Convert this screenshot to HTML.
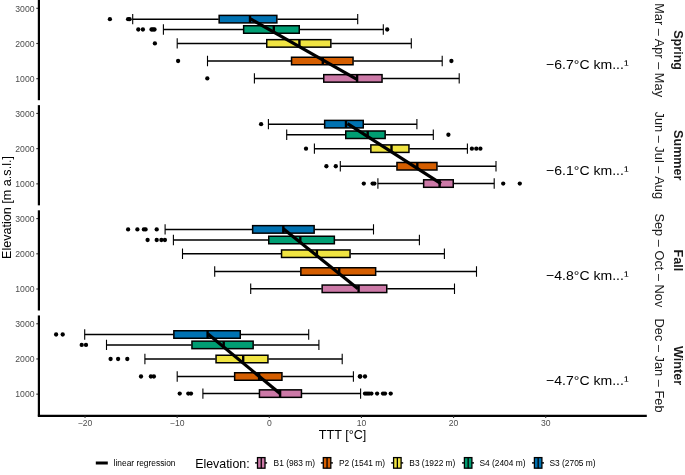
<!DOCTYPE html><html><head><meta charset="utf-8"><style>html,body{margin:0;padding:0;background:#fff;}svg{display:block;will-change:transform;}</style></head><body>
<svg width="685" height="475" viewBox="0 0 685 475">
<rect width="685" height="475" fill="#fff"/>
<path d="M132.70 19.15H218.70M277.30 19.15H357.70" stroke="#000" stroke-width="1.5" fill="none"/>
<path d="M132.70 13.95V24.35M357.70 13.95V24.35" stroke="#000" stroke-width="1.1" fill="none"/>
<rect x="219.15" y="15.40" width="57.70" height="7.50" fill="#0072B2" stroke="#000" stroke-width="1.5"/>
<path d="M250.00 15.40V22.90" stroke="#000" stroke-width="2.4"/>
<circle cx="109.90" cy="19.15" r="2.15"/>
<circle cx="128.10" cy="19.15" r="2.15"/>
<circle cx="129.60" cy="19.15" r="2.15"/>
<path d="M163.40 29.50H243.20M299.70 29.50H383.30" stroke="#000" stroke-width="1.5" fill="none"/>
<path d="M163.40 24.30V34.70M383.30 24.30V34.70" stroke="#000" stroke-width="1.1" fill="none"/>
<rect x="243.65" y="25.75" width="55.60" height="7.50" fill="#009E73" stroke="#000" stroke-width="1.5"/>
<path d="M273.80 25.75V33.25" stroke="#000" stroke-width="2.4"/>
<circle cx="138.30" cy="29.50" r="2.15"/>
<circle cx="142.90" cy="29.50" r="2.15"/>
<circle cx="151.50" cy="29.50" r="2.15"/>
<circle cx="153.00" cy="29.50" r="2.15"/>
<circle cx="154.50" cy="29.50" r="2.15"/>
<circle cx="387.20" cy="29.50" r="2.15"/>
<path d="M177.20 43.40H266.30M331.30 43.40H411.30" stroke="#000" stroke-width="1.5" fill="none"/>
<path d="M177.20 38.20V48.60M411.30 38.20V48.60" stroke="#000" stroke-width="1.1" fill="none"/>
<rect x="266.75" y="39.65" width="64.10" height="7.50" fill="#F0E442" stroke="#000" stroke-width="1.5"/>
<path d="M299.40 39.65V47.15" stroke="#000" stroke-width="2.4"/>
<circle cx="154.90" cy="43.40" r="2.15"/>
<path d="M207.50 61.00H291.10M353.50 61.00H442.20" stroke="#000" stroke-width="1.5" fill="none"/>
<path d="M207.50 55.80V66.20M442.20 55.80V66.20" stroke="#000" stroke-width="1.1" fill="none"/>
<rect x="291.55" y="57.25" width="61.50" height="7.50" fill="#D55E00" stroke="#000" stroke-width="1.5"/>
<path d="M322.80 57.25V64.75" stroke="#000" stroke-width="2.4"/>
<circle cx="178.10" cy="61.00" r="2.15"/>
<circle cx="451.40" cy="61.00" r="2.15"/>
<path d="M254.40 78.40H323.30M382.50 78.40H459.20" stroke="#000" stroke-width="1.5" fill="none"/>
<path d="M254.40 73.20V83.60M459.20 73.20V83.60" stroke="#000" stroke-width="1.1" fill="none"/>
<rect x="323.75" y="74.65" width="58.30" height="7.50" fill="#CC79A7" stroke="#000" stroke-width="1.5"/>
<path d="M357.10 74.65V82.15" stroke="#000" stroke-width="2.4"/>
<circle cx="207.30" cy="78.40" r="2.15"/>
<path d="M250.60 18.90L356.50 79.10" stroke="#000" stroke-width="3.2"/>
<text x="546.1" y="69.40" font-family="Liberation Sans, sans-serif" font-size="13" textLength="82.5" lengthAdjust="spacingAndGlyphs" fill="#000">−6.7°C km...¹</text>
<path d="M36.3 8.30H39" stroke="#333" stroke-width="1.1"/>
<text x="34.6" y="11.55" font-family="Liberation Sans, sans-serif" font-size="9" textLength="19.3" lengthAdjust="spacingAndGlyphs" fill="#4d4d4d" text-anchor="end">3000</text>
<path d="M36.3 43.50H39" stroke="#333" stroke-width="1.1"/>
<text x="34.6" y="46.75" font-family="Liberation Sans, sans-serif" font-size="9" textLength="19.3" lengthAdjust="spacingAndGlyphs" fill="#4d4d4d" text-anchor="end">2000</text>
<path d="M36.3 78.70H39" stroke="#333" stroke-width="1.1"/>
<text x="34.6" y="81.95" font-family="Liberation Sans, sans-serif" font-size="9" textLength="19.3" lengthAdjust="spacingAndGlyphs" fill="#4d4d4d" text-anchor="end">1000</text>
<path d="M38.9 0.00V100.20" stroke="#000" stroke-width="2.2"/>
<text transform="translate(673.7 50.10) rotate(90)" font-family="Liberation Sans, sans-serif" font-size="12.6" font-weight="bold" text-anchor="middle" fill="#1a1a1a">Spring</text>
<text transform="translate(654.7 50.10) rotate(90)" font-family="Liberation Sans, sans-serif" font-size="12.8" text-anchor="middle" fill="#1a1a1a">Mar – Apr – May</text>
<path d="M268.40 124.15H324.20M363.70 124.15H416.90" stroke="#000" stroke-width="1.5" fill="none"/>
<path d="M268.40 118.95V129.35M416.90 118.95V129.35" stroke="#000" stroke-width="1.1" fill="none"/>
<rect x="324.65" y="120.40" width="38.60" height="7.50" fill="#0072B2" stroke="#000" stroke-width="1.5"/>
<path d="M346.00 120.40V127.90" stroke="#000" stroke-width="2.4"/>
<circle cx="261.10" cy="124.15" r="2.15"/>
<path d="M286.70 134.75H345.30M385.60 134.75H433.30" stroke="#000" stroke-width="1.5" fill="none"/>
<path d="M286.70 129.55V139.95M433.30 129.55V139.95" stroke="#000" stroke-width="1.1" fill="none"/>
<rect x="345.75" y="131.00" width="39.40" height="7.50" fill="#009E73" stroke="#000" stroke-width="1.5"/>
<path d="M367.70 131.00V138.50" stroke="#000" stroke-width="2.4"/>
<circle cx="448.40" cy="134.75" r="2.15"/>
<path d="M314.40 148.65H370.40M409.40 148.65H467.40" stroke="#000" stroke-width="1.5" fill="none"/>
<path d="M314.40 143.45V153.85M467.40 143.45V153.85" stroke="#000" stroke-width="1.1" fill="none"/>
<rect x="370.85" y="144.90" width="38.10" height="7.50" fill="#F0E442" stroke="#000" stroke-width="1.5"/>
<path d="M391.50 144.90V152.40" stroke="#000" stroke-width="2.4"/>
<circle cx="306.00" cy="148.65" r="2.15"/>
<circle cx="471.90" cy="148.65" r="2.15"/>
<circle cx="476.30" cy="148.65" r="2.15"/>
<circle cx="480.40" cy="148.65" r="2.15"/>
<path d="M340.30 166.25H396.50M437.40 166.25H496.00" stroke="#000" stroke-width="1.5" fill="none"/>
<path d="M340.30 161.05V171.45M496.00 161.05V171.45" stroke="#000" stroke-width="1.1" fill="none"/>
<rect x="396.95" y="162.50" width="40.00" height="7.50" fill="#D55E00" stroke="#000" stroke-width="1.5"/>
<path d="M417.30 162.50V170.00" stroke="#000" stroke-width="2.4"/>
<circle cx="326.40" cy="166.25" r="2.15"/>
<circle cx="335.80" cy="166.25" r="2.15"/>
<path d="M377.90 183.55H423.20M453.70 183.55H494.20" stroke="#000" stroke-width="1.5" fill="none"/>
<path d="M377.90 178.35V188.75M494.20 178.35V188.75" stroke="#000" stroke-width="1.1" fill="none"/>
<rect x="423.65" y="179.80" width="29.60" height="7.50" fill="#CC79A7" stroke="#000" stroke-width="1.5"/>
<path d="M439.60 179.80V187.30" stroke="#000" stroke-width="2.4"/>
<circle cx="363.80" cy="183.55" r="2.15"/>
<circle cx="372.60" cy="183.55" r="2.15"/>
<circle cx="374.40" cy="183.55" r="2.15"/>
<circle cx="503.20" cy="183.55" r="2.15"/>
<circle cx="519.80" cy="183.55" r="2.15"/>
<path d="M347.50 123.65L441.00 183.55" stroke="#000" stroke-width="3.2"/>
<text x="546.1" y="174.55" font-family="Liberation Sans, sans-serif" font-size="13" textLength="82.5" lengthAdjust="spacingAndGlyphs" fill="#000">−6.1°C km...¹</text>
<path d="M36.3 113.45H39" stroke="#333" stroke-width="1.1"/>
<text x="34.6" y="116.70" font-family="Liberation Sans, sans-serif" font-size="9" textLength="19.3" lengthAdjust="spacingAndGlyphs" fill="#4d4d4d" text-anchor="end">3000</text>
<path d="M36.3 148.65H39" stroke="#333" stroke-width="1.1"/>
<text x="34.6" y="151.90" font-family="Liberation Sans, sans-serif" font-size="9" textLength="19.3" lengthAdjust="spacingAndGlyphs" fill="#4d4d4d" text-anchor="end">2000</text>
<path d="M36.3 183.85H39" stroke="#333" stroke-width="1.1"/>
<text x="34.6" y="187.10" font-family="Liberation Sans, sans-serif" font-size="9" textLength="19.3" lengthAdjust="spacingAndGlyphs" fill="#4d4d4d" text-anchor="end">1000</text>
<path d="M38.9 105.15V205.35" stroke="#000" stroke-width="2.2"/>
<text transform="translate(673.7 155.25) rotate(90)" font-family="Liberation Sans, sans-serif" font-size="12.6" font-weight="bold" text-anchor="middle" fill="#1a1a1a">Summer</text>
<text transform="translate(654.7 155.25) rotate(90)" font-family="Liberation Sans, sans-serif" font-size="12.8" text-anchor="middle" fill="#1a1a1a">Jun – Jul – Aug</text>
<path d="M165.10 229.40H252.20M314.60 229.40H373.50" stroke="#000" stroke-width="1.5" fill="none"/>
<path d="M165.10 224.20V234.60M373.50 224.20V234.60" stroke="#000" stroke-width="1.1" fill="none"/>
<rect x="252.65" y="225.65" width="61.50" height="7.50" fill="#0072B2" stroke="#000" stroke-width="1.5"/>
<path d="M283.30 225.65V233.15" stroke="#000" stroke-width="2.4"/>
<circle cx="128.10" cy="229.40" r="2.15"/>
<circle cx="137.40" cy="229.40" r="2.15"/>
<circle cx="143.90" cy="229.40" r="2.15"/>
<circle cx="145.60" cy="229.40" r="2.15"/>
<circle cx="156.70" cy="229.40" r="2.15"/>
<path d="M173.40 240.00H268.30M334.80 240.00H419.40" stroke="#000" stroke-width="1.5" fill="none"/>
<path d="M173.40 234.80V245.20M419.40 234.80V245.20" stroke="#000" stroke-width="1.1" fill="none"/>
<rect x="268.75" y="236.25" width="65.60" height="7.50" fill="#009E73" stroke="#000" stroke-width="1.5"/>
<path d="M300.30 236.25V243.75" stroke="#000" stroke-width="2.4"/>
<circle cx="147.60" cy="240.00" r="2.15"/>
<circle cx="156.70" cy="240.00" r="2.15"/>
<circle cx="161.40" cy="240.00" r="2.15"/>
<circle cx="164.90" cy="240.00" r="2.15"/>
<path d="M182.50 253.70H281.10M350.50 253.70H444.40" stroke="#000" stroke-width="1.5" fill="none"/>
<path d="M182.50 248.50V258.90M444.40 248.50V258.90" stroke="#000" stroke-width="1.1" fill="none"/>
<rect x="281.55" y="249.95" width="68.50" height="7.50" fill="#F0E442" stroke="#000" stroke-width="1.5"/>
<path d="M316.90 249.95V257.45" stroke="#000" stroke-width="2.4"/>
<path d="M214.70 271.50H300.40M376.10 271.50H476.50" stroke="#000" stroke-width="1.5" fill="none"/>
<path d="M214.70 266.30V276.70M476.50 266.30V276.70" stroke="#000" stroke-width="1.1" fill="none"/>
<rect x="300.85" y="267.75" width="74.80" height="7.50" fill="#D55E00" stroke="#000" stroke-width="1.5"/>
<path d="M339.20 267.75V275.25" stroke="#000" stroke-width="2.4"/>
<path d="M250.70 288.80H321.70M387.20 288.80H454.50" stroke="#000" stroke-width="1.5" fill="none"/>
<path d="M250.70 283.60V294.00M454.50 283.60V294.00" stroke="#000" stroke-width="1.1" fill="none"/>
<rect x="322.15" y="285.05" width="64.60" height="7.50" fill="#CC79A7" stroke="#000" stroke-width="1.5"/>
<path d="M358.60 285.05V292.55" stroke="#000" stroke-width="2.4"/>
<path d="M283.30 228.70L358.00 288.80" stroke="#000" stroke-width="3.2"/>
<text x="546.1" y="279.70" font-family="Liberation Sans, sans-serif" font-size="13" textLength="82.5" lengthAdjust="spacingAndGlyphs" fill="#000">−4.8°C km...¹</text>
<path d="M36.3 218.60H39" stroke="#333" stroke-width="1.1"/>
<text x="34.6" y="221.85" font-family="Liberation Sans, sans-serif" font-size="9" textLength="19.3" lengthAdjust="spacingAndGlyphs" fill="#4d4d4d" text-anchor="end">3000</text>
<path d="M36.3 253.80H39" stroke="#333" stroke-width="1.1"/>
<text x="34.6" y="257.05" font-family="Liberation Sans, sans-serif" font-size="9" textLength="19.3" lengthAdjust="spacingAndGlyphs" fill="#4d4d4d" text-anchor="end">2000</text>
<path d="M36.3 289.00H39" stroke="#333" stroke-width="1.1"/>
<text x="34.6" y="292.25" font-family="Liberation Sans, sans-serif" font-size="9" textLength="19.3" lengthAdjust="spacingAndGlyphs" fill="#4d4d4d" text-anchor="end">1000</text>
<path d="M38.9 210.30V310.50" stroke="#000" stroke-width="2.2"/>
<text transform="translate(673.7 260.40) rotate(90)" font-family="Liberation Sans, sans-serif" font-size="12.6" font-weight="bold" text-anchor="middle" fill="#1a1a1a">Fall</text>
<text transform="translate(654.7 260.40) rotate(90)" font-family="Liberation Sans, sans-serif" font-size="12.8" text-anchor="middle" fill="#1a1a1a">Sep – Oct – Nov</text>
<path d="M84.70 334.50H173.40M240.70 334.50H308.70" stroke="#000" stroke-width="1.5" fill="none"/>
<path d="M84.70 329.30V339.70M308.70 329.30V339.70" stroke="#000" stroke-width="1.1" fill="none"/>
<rect x="173.85" y="330.75" width="66.40" height="7.50" fill="#0072B2" stroke="#000" stroke-width="1.5"/>
<path d="M207.60 330.75V338.25" stroke="#000" stroke-width="2.4"/>
<circle cx="56.10" cy="334.50" r="2.15"/>
<circle cx="62.70" cy="334.50" r="2.15"/>
<path d="M106.50 344.90H191.50M253.60 344.90H318.90" stroke="#000" stroke-width="1.5" fill="none"/>
<path d="M106.50 339.70V350.10M318.90 339.70V350.10" stroke="#000" stroke-width="1.1" fill="none"/>
<rect x="191.95" y="341.15" width="61.20" height="7.50" fill="#009E73" stroke="#000" stroke-width="1.5"/>
<path d="M223.70 341.15V348.65" stroke="#000" stroke-width="2.4"/>
<circle cx="81.70" cy="344.90" r="2.15"/>
<circle cx="86.00" cy="344.90" r="2.15"/>
<path d="M144.90 359.00H215.60M268.40 359.00H342.20" stroke="#000" stroke-width="1.5" fill="none"/>
<path d="M144.90 353.80V364.20M342.20 353.80V364.20" stroke="#000" stroke-width="1.1" fill="none"/>
<rect x="216.05" y="355.25" width="51.90" height="7.50" fill="#F0E442" stroke="#000" stroke-width="1.5"/>
<path d="M243.20 355.25V362.75" stroke="#000" stroke-width="2.4"/>
<circle cx="110.60" cy="359.00" r="2.15"/>
<circle cx="118.10" cy="359.00" r="2.15"/>
<circle cx="127.30" cy="359.00" r="2.15"/>
<path d="M177.20 376.50H234.20M282.40 376.50H353.40" stroke="#000" stroke-width="1.5" fill="none"/>
<path d="M177.20 371.30V381.70M353.40 371.30V381.70" stroke="#000" stroke-width="1.1" fill="none"/>
<rect x="234.65" y="372.75" width="47.30" height="7.50" fill="#D55E00" stroke="#000" stroke-width="1.5"/>
<path d="M259.10 372.75V380.25" stroke="#000" stroke-width="2.4"/>
<circle cx="141.00" cy="376.50" r="2.15"/>
<circle cx="150.90" cy="376.50" r="2.15"/>
<circle cx="153.90" cy="376.50" r="2.15"/>
<circle cx="359.80" cy="376.50" r="2.15"/>
<circle cx="360.30" cy="376.50" r="2.15"/>
<circle cx="365.00" cy="376.50" r="2.15"/>
<path d="M202.90 393.60H259.00M301.90 393.60H360.60" stroke="#000" stroke-width="1.5" fill="none"/>
<path d="M202.90 388.40V398.80M360.60 388.40V398.80" stroke="#000" stroke-width="1.1" fill="none"/>
<rect x="259.45" y="389.85" width="42.00" height="7.50" fill="#CC79A7" stroke="#000" stroke-width="1.5"/>
<path d="M280.10 389.85V397.35" stroke="#000" stroke-width="2.4"/>
<circle cx="179.70" cy="393.60" r="2.15"/>
<circle cx="188.30" cy="393.60" r="2.15"/>
<circle cx="191.00" cy="393.60" r="2.15"/>
<circle cx="365.00" cy="393.60" r="2.15"/>
<circle cx="367.00" cy="393.60" r="2.15"/>
<circle cx="369.00" cy="393.60" r="2.15"/>
<circle cx="371.40" cy="393.60" r="2.15"/>
<circle cx="377.10" cy="393.60" r="2.15"/>
<circle cx="383.00" cy="393.60" r="2.15"/>
<circle cx="385.00" cy="393.60" r="2.15"/>
<circle cx="390.70" cy="393.60" r="2.15"/>
<path d="M208.00 334.00L280.00 393.60" stroke="#000" stroke-width="3.2"/>
<text x="546.1" y="384.85" font-family="Liberation Sans, sans-serif" font-size="13" textLength="82.5" lengthAdjust="spacingAndGlyphs" fill="#000">−4.7°C km...¹</text>
<path d="M36.3 323.75H39" stroke="#333" stroke-width="1.1"/>
<text x="34.6" y="327.00" font-family="Liberation Sans, sans-serif" font-size="9" textLength="19.3" lengthAdjust="spacingAndGlyphs" fill="#4d4d4d" text-anchor="end">3000</text>
<path d="M36.3 358.95H39" stroke="#333" stroke-width="1.1"/>
<text x="34.6" y="362.20" font-family="Liberation Sans, sans-serif" font-size="9" textLength="19.3" lengthAdjust="spacingAndGlyphs" fill="#4d4d4d" text-anchor="end">2000</text>
<path d="M36.3 394.15H39" stroke="#333" stroke-width="1.1"/>
<text x="34.6" y="397.40" font-family="Liberation Sans, sans-serif" font-size="9" textLength="19.3" lengthAdjust="spacingAndGlyphs" fill="#4d4d4d" text-anchor="end">1000</text>
<path d="M38.9 315.45V415.65" stroke="#000" stroke-width="2.2"/>
<text transform="translate(673.7 365.55) rotate(90)" font-family="Liberation Sans, sans-serif" font-size="12.6" font-weight="bold" text-anchor="middle" fill="#1a1a1a">Winter</text>
<text transform="translate(654.7 365.55) rotate(90)" font-family="Liberation Sans, sans-serif" font-size="12.8" text-anchor="middle" fill="#1a1a1a">Dec – Jan – Feb</text>
<path d="M37.8 415.8H646.8" stroke="#000" stroke-width="2.2"/>
<path d="M85.02 415.8V418" stroke="#333" stroke-width="1.1"/>
<text x="85.02" y="426" font-family="Liberation Sans, sans-serif" font-size="8.6" fill="#4d4d4d" text-anchor="middle">−20</text>
<path d="M177.16 415.8V418" stroke="#333" stroke-width="1.1"/>
<text x="177.16" y="426" font-family="Liberation Sans, sans-serif" font-size="8.6" fill="#4d4d4d" text-anchor="middle">−10</text>
<path d="M269.30 415.8V418" stroke="#333" stroke-width="1.1"/>
<text x="269.30" y="426" font-family="Liberation Sans, sans-serif" font-size="8.6" fill="#4d4d4d" text-anchor="middle">0</text>
<path d="M361.44 415.8V418" stroke="#333" stroke-width="1.1"/>
<text x="361.44" y="426" font-family="Liberation Sans, sans-serif" font-size="8.6" fill="#4d4d4d" text-anchor="middle">10</text>
<path d="M453.58 415.8V418" stroke="#333" stroke-width="1.1"/>
<text x="453.58" y="426" font-family="Liberation Sans, sans-serif" font-size="8.6" fill="#4d4d4d" text-anchor="middle">20</text>
<path d="M545.72 415.8V418" stroke="#333" stroke-width="1.1"/>
<text x="545.72" y="426" font-family="Liberation Sans, sans-serif" font-size="8.6" fill="#4d4d4d" text-anchor="middle">30</text>
<text x="342.6" y="439" font-family="Liberation Sans, sans-serif" font-size="12.6" text-anchor="middle" fill="#000">TTT [°C]</text>
<text transform="translate(11 207.5) rotate(-90)" font-family="Liberation Sans, sans-serif" font-size="12.6" text-anchor="middle" fill="#000">Elevation [m a.s.l.]</text>
<path d="M95.8 463H107.8" stroke="#000" stroke-width="3"/>
<text x="113.6" y="465.9" font-family="Liberation Sans, sans-serif" font-size="8.4" fill="#000">linear regression</text>
<text x="195.2" y="467.8" font-family="Liberation Sans, sans-serif" font-size="12.4" fill="#000">Elevation:</text>
<path d="M255.10 462.9H267.10" stroke="#000" stroke-width="1.4"/>
<rect x="257.50" y="457.6" width="7.5" height="10.6" fill="#CC79A7" stroke="#000" stroke-width="1.3"/>
<path d="M261.25 457.6V468.2" stroke="#000" stroke-width="1.3"/>
<text x="273.60" y="465.8" font-family="Liberation Sans, sans-serif" font-size="8.4" fill="#000">B1 (983 m)</text>
<path d="M320.90 462.9H332.90" stroke="#000" stroke-width="1.4"/>
<rect x="323.30" y="457.6" width="7.5" height="10.6" fill="#D55E00" stroke="#000" stroke-width="1.3"/>
<path d="M327.05 457.6V468.2" stroke="#000" stroke-width="1.3"/>
<text x="339.00" y="465.8" font-family="Liberation Sans, sans-serif" font-size="8.4" fill="#000">P2 (1541 m)</text>
<path d="M391.20 462.9H403.20" stroke="#000" stroke-width="1.4"/>
<rect x="393.60" y="457.6" width="7.5" height="10.6" fill="#F0E442" stroke="#000" stroke-width="1.3"/>
<path d="M397.35 457.6V468.2" stroke="#000" stroke-width="1.3"/>
<text x="409.30" y="465.8" font-family="Liberation Sans, sans-serif" font-size="8.4" fill="#000">B3 (1922 m)</text>
<path d="M462.00 462.9H474.00" stroke="#000" stroke-width="1.4"/>
<rect x="464.40" y="457.6" width="7.5" height="10.6" fill="#009E73" stroke="#000" stroke-width="1.3"/>
<path d="M468.15 457.6V468.2" stroke="#000" stroke-width="1.3"/>
<text x="479.40" y="465.8" font-family="Liberation Sans, sans-serif" font-size="8.4" fill="#000">S4 (2404 m)</text>
<path d="M532.00 462.9H544.00" stroke="#000" stroke-width="1.4"/>
<rect x="534.40" y="457.6" width="7.5" height="10.6" fill="#0072B2" stroke="#000" stroke-width="1.3"/>
<path d="M538.15 457.6V468.2" stroke="#000" stroke-width="1.3"/>
<text x="549.50" y="465.8" font-family="Liberation Sans, sans-serif" font-size="8.4" fill="#000">S3 (2705 m)</text>
</svg></body></html>
